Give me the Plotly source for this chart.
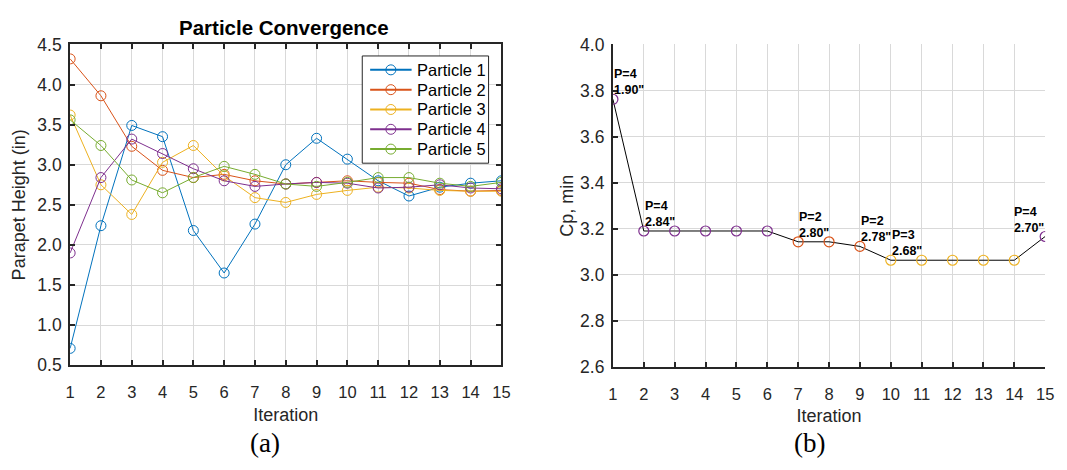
import plotly.graph_objects as go

# Iteration numbers
iterations = list(range(1, 16))

# Parapet height of each particle per iteration (in)
particle_1 = [0.71, 2.24, 3.49, 3.35, 2.18, 1.65, 2.26, 3.00, 3.33, 3.07, 2.80, 2.61, 2.72, 2.77, 2.80]
particle_2 = [4.32, 3.86, 3.23, 2.93, 2.84, 2.88, 2.80, 2.76, 2.78, 2.80, 2.78, 2.77, 2.69, 2.67, 2.68]
particle_3 = [3.62, 2.75, 2.38, 3.03, 3.24, 2.86, 2.59, 2.53, 2.63, 2.68, 2.72, 2.71, 2.68, 2.67, 2.67]
particle_4 = [1.90, 2.84, 3.32, 3.14, 2.95, 2.80, 2.73, 2.76, 2.78, 2.77, 2.71, 2.72, 2.75, 2.71, 2.70]
particle_5 = [3.56, 3.24, 2.81, 2.65, 2.84, 2.98, 2.88, 2.76, 2.73, 2.78, 2.84, 2.84, 2.77, 2.73, 2.78]

particle_names = ["Particle 1", "Particle 2", "Particle 3", "Particle 4", "Particle 5"]
particle_colors = ["#0072BD", "#D95319", "#EDB120", "#7E2F8E", "#77AC30"]

# Minimum Cp of the best particle per iteration
cp_min = [3.762, 3.190, 3.190, 3.190, 3.190, 3.190, 3.143, 3.143, 3.123,
          3.063, 3.063, 3.063, 3.063, 3.063, 3.166]
best_particle = [4, 4, 4, 4, 4, 4, 2, 2, 2, 3, 3, 3, 3, 3, 4]
labelled_iterations = [1, 2, 7, 9, 10, 15]

left_ticks_y = [0.5, 1.0, 1.5, 2.0, 2.5, 3.0, 3.5, 4.0, 4.5]
right_ticks_y = [2.6, 2.8, 3.0, 3.2, 3.4, 3.6, 3.8, 4.0]

W, H = 1067, 470
FONT = "Liberation Sans, Arial, sans-serif"
SERIF = "Liberation Serif, Times New Roman, serif"
TICK_COLOR = "#262626"
GRID_COLOR = "#d9d9d9"

particles = [particle_1, particle_2, particle_3, particle_4, particle_5]


def px(x):
    return x / W


def py(y):
    return 1 - y / H


fig = go.Figure()

for name, color, values in zip(particle_names, particle_colors, particles):
    fig.add_trace(go.Scatter(
        x=iterations, y=values, name=name, mode="lines+markers",
        line=dict(color=color, width=1),
        marker=dict(symbol="circle-open", size=10, color=color, line=dict(width=1)),
        xaxis="x", yaxis="y", showlegend=False,
    ))

# Best-particle history: black line, circles coloured by particle
fig.add_trace(go.Scatter(
    x=iterations, y=cp_min, mode="lines",
    line=dict(color="black", width=1), showlegend=False,
    xaxis="x2", yaxis="y2",
))
fig.add_trace(go.Scatter(
    x=iterations, y=cp_min, mode="markers", showlegend=False,
    marker=dict(symbol="circle-open", size=10,
                color=[particle_colors[p - 1] for p in best_particle],
                line=dict(width=1.2)),
    xaxis="x2", yaxis="y2",
))

annotations = []
for it in labelled_iterations:
    p = best_particle[it - 1]
    height = particles[p - 1][it - 1]
    last = it == iterations[-1]
    annotations.append(dict(
        x=it, y=cp_min[it - 1], xref="x2", yref="y2",
        text=f"<b>P={p}<br>{height:.2f}\"</b>",
        showarrow=False, xanchor="right" if last else "left", yanchor="bottom",
        align="left", xshift=1 if last else -1,
        font=dict(family=FONT, size=12.5, color="black"),
    ))

annotations += [
    dict(text="<b>Particle Convergence</b>", x=px(283), y=py(18), xref="paper", yref="paper",
         xanchor="center", yanchor="middle", showarrow=False,
         font=dict(family=FONT, size=20.5, color="black")),
    dict(text="(a)", x=px(263), y=py(452), xref="paper", yref="paper",
         xanchor="center", yanchor="middle", showarrow=False,
         font=dict(family=SERIF, size=27, color="black")),
    dict(text="(b)", x=px(815), y=py(452), xref="paper", yref="paper",
         xanchor="center", yanchor="middle", showarrow=False,
         font=dict(family=SERIF, size=27, color="black")),
]

# Legend box for the particle traces
shapes = [dict(type="rect", xref="paper", yref="paper",
               x0=px(362), x1=px(490), y0=py(160), y1=py(48),
               line=dict(color=TICK_COLOR, width=1), fillcolor="white", layer="above")]
legend_top, legend_step = 62.5, 20.7
for i, (name, color) in enumerate(zip(particle_names, particle_colors)):
    yc = legend_top + i * legend_step
    shapes.append(dict(type="line", xref="paper", yref="paper",
                       x0=px(370), x1=px(412), y0=py(yc), y1=py(yc),
                       line=dict(color=color, width=2), layer="above"))
    shapes.append(dict(type="circle", xref="paper", yref="paper",
                       xsizemode="pixel", ysizemode="pixel",
                       xanchor=px(391), yanchor=py(yc), x0=-5, x1=5, y0=-5, y1=5,
                       line=dict(color=color, width=1), fillcolor="rgba(0,0,0,0)",
                       layer="above"))
    annotations.append(dict(text=name, x=px(415), y=py(yc), xref="paper", yref="paper",
                            xanchor="left", yanchor="middle", showarrow=False,
                            font=dict(family=FONT, size=16.5, color="black")))

common_x = dict(
    range=[1, 15], tickmode="array", tickvals=iterations,
    ticks="inside", ticklen=5, tickwidth=1.5, tickcolor=TICK_COLOR,
    showline=True, linecolor=TICK_COLOR, linewidth=2,
    showgrid=True, gridcolor=GRID_COLOR, gridwidth=1.2, zeroline=False,
    tickfont=dict(family=FONT, size=16.5, color=TICK_COLOR), ticklabelstandoff=11,
    title=dict(text="Iteration", font=dict(family=FONT, size=18, color=TICK_COLOR), standoff=8),
)
common_y = dict(
    ticks="inside", ticklen=5, tickwidth=1.5, tickcolor=TICK_COLOR,
    showline=True, linecolor=TICK_COLOR, linewidth=2,
    showgrid=True, gridcolor=GRID_COLOR, gridwidth=1.2, zeroline=False,
    tickfont=dict(family=FONT, size=17.5, color=TICK_COLOR),
    tickformat=".1f",
)

fig.update_layout(
    width=W, height=H,
    margin=dict(l=0, r=0, t=0, b=0),
    paper_bgcolor="white", plot_bgcolor="white",
    xaxis=dict(domain=[px(66), px(503)], anchor="y", mirror="ticks", **common_x),
    yaxis=dict(domain=[py(371), py(36)], anchor="x", range=[0.5, 4.5],
               tickvals=left_ticks_y, mirror="ticks", ticklabelstandoff=3,
               title=dict(text="Parapet Height (in)", font=dict(family=FONT, size=18, color=TICK_COLOR),
                          standoff=7),
               **common_y),
    xaxis2=dict(domain=[px(616), px(1054)], anchor="y2", **common_x),
    yaxis2=dict(domain=[py(372.7), py(36)], anchor="x2", range=[2.6, 4.0],
                tickvals=right_ticks_y, ticklabelstandoff=3,
                title=dict(text="Cp, min", font=dict(family=FONT, size=18, color=TICK_COLOR),
                           standoff=2),
                **common_y),
    annotations=annotations,
    shapes=shapes,
    showlegend=False,
)

fig.write_html("out.html")
